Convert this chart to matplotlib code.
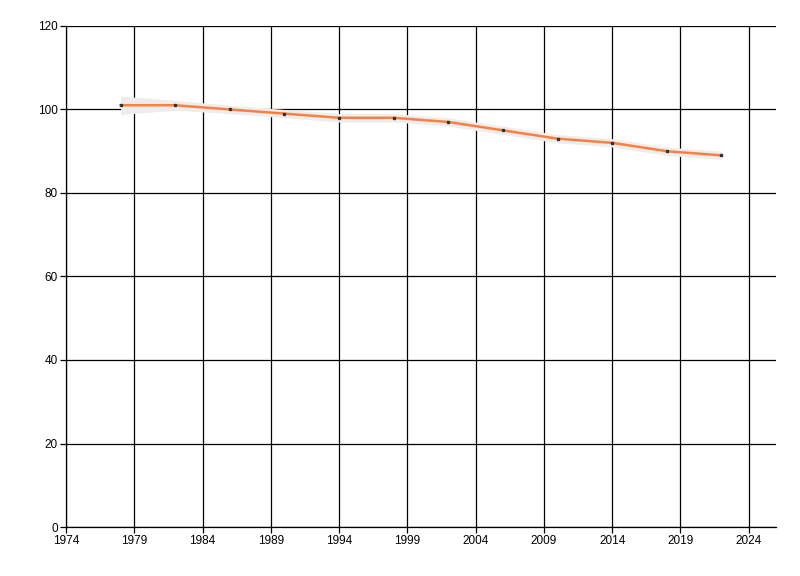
import matplotlib
matplotlib.use("Agg")
import matplotlib.pyplot as plt

# data
years = [1978, 1982, 1986, 1990, 1994, 1998, 2002, 2006, 2010, 2014, 2018, 2022]
values = [101, 101, 100, 99, 98, 98, 97, 95, 93, 92, 90, 89]
lower = [98.8, 99.8, 99.0, 98.0, 97.0, 97.0, 96.0, 94.0, 92.0, 91.0, 89.0, 88.0]
upper = [103.2, 102.2, 101.0, 100.0, 99.0, 99.0, 98.0, 96.0, 94.0, 93.0, 91.0, 90.0]

x_ticks = list(range(1974, 2025, 5))
y_ticks = list(range(0, 121, 20))

plt.rcParams['font.family'] = ['Liberation Sans', 'DejaVu Sans']

fig = plt.figure(figsize=(8, 5.76), dpi=100)
ax = fig.add_axes([0.0825, 0.085, 0.8875, 0.87])

ax.fill_between(years, lower, upper, color='#ededed', lw=0, zorder=2)
ax.plot(years, values, color='#ff7f3f', lw=1.8, zorder=3)
ax.plot(years, values, ls='none', marker='s', ms=2, color='#333333', zorder=4)

ax.set_xlim(1974, 2026)
ax.set_ylim(0, 120)
ax.set_xticks(x_ticks)
ax.set_yticks(y_ticks)
ax.grid(True, color='black', lw=0.9, zorder=1)
ax.set_axisbelow(True)

for s in ['top', 'right']:
    ax.spines[s].set_visible(False)
for s in ['left', 'bottom']:
    ax.spines[s].set_color('black')
    ax.spines[s].set_linewidth(0.9)

ax.tick_params(length=4, width=0.9, labelsize=8.5, colors='black', pad=2)

fig.savefig('out.png', dpi=100)
